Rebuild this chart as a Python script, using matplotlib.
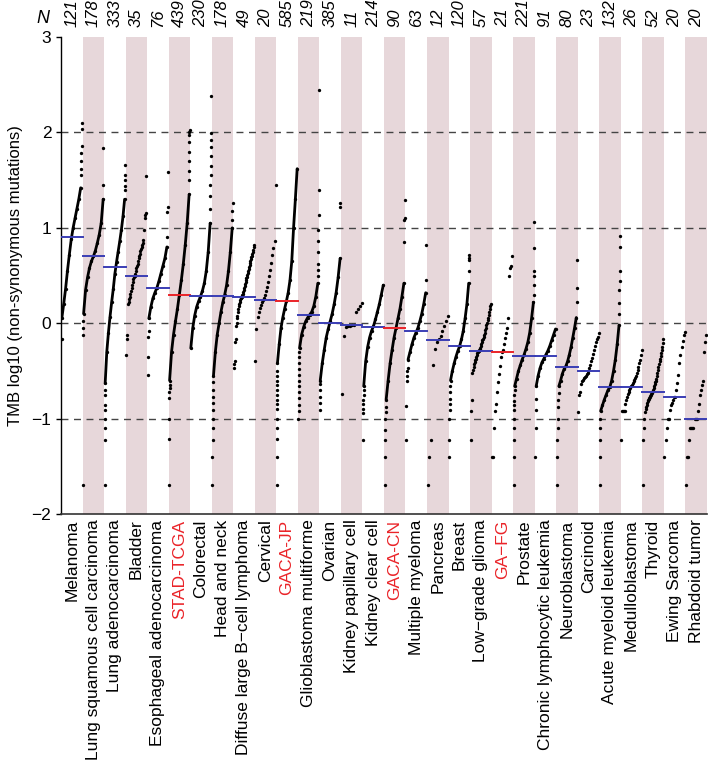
import numpy as np
import matplotlib
matplotlib.use("Agg")
import matplotlib.pyplot as plt

plt.rcParams['font.family'] = ['Liberation Sans', 'DejaVu Sans']

categories = ["Melanoma", "Lung squamous cell carcinoma", "Lung adenocarcinoma", "Bladder",
              "Esophageal adenocarcinoma", "STAD-TCGA", "Colorectal", "Head and neck",
              "Diffuse large B\u2212cell lymphoma", "Cervical", "GACA-JP", "Glioblastoma multiforme",
              "Ovarian", "Kidney papillary cell", "Kidney clear cell", "GACA-CN", "Multiple myeloma",
              "Pancreas", "Breast", "Low\u2212grade glioma", "GA\u2212FG", "Prostate",
              "Chronic lymphocytic leukemia", "Neuroblastoma", "Carcinoid", "Acute myeloid leukemia",
              "Medulloblastoma", "Thyroid", "Ewing Sarcoma", "Rhabdoid tumor"]
n_samples = [121, 178, 333, 35, 76, 439, 230, 178, 49, 20, 585, 219, 385, 11, 214, 90, 63,
             12, 120, 57, 21, 221, 91, 80, 23, 132, 26, 52, 20, 20]
highlight = ["STAD-TCGA", "GACA-JP", "GACA-CN", "GA\u2212FG"]
medians = [0.90, 0.70, 0.59, 0.50, 0.37, 0.30, 0.29, 0.29, 0.28, 0.24, 0.23, 0.09, 0.00,
           -0.02, -0.04, -0.05, -0.08, -0.18, -0.24, -0.29, -0.30, -0.34, -0.34, -0.46,
           -0.50, -0.67, -0.67, -0.72, -0.77, -1.00]

# isolated low outliers (sorted, lowest ranks)
low_tail = [
    [-0.17],
    [-1.70, -0.12, -0.05, 0.02],
    [-1.70, -1.22, -1.10, -1.00, -0.91, -0.86, -0.75, -0.70],
    [],
    [-0.54, -0.35, -0.14, -0.08],
    [-1.70, -1.21, -1.00, -0.78, -0.72, -0.68, -0.65],
    [],
    [-1.70, -1.40, -1.22, -1.10, -1.00, -0.91, -0.84, -0.77, -0.70, -0.62],
    [],
    [],
    [-1.70, -1.40, -1.21, -1.10, -1.00, -0.90, -0.85, -0.80, -0.75, -0.70, -0.65, -0.60, -0.55, -0.50],
    [-1.00, -0.92, -0.86, -0.78, -0.72, -0.66, -0.60, -0.54, -0.48, -0.42, -0.35, -0.30],
    [-0.91, -0.84, -0.77, -0.70, -0.64],
    [],
    [-1.22, -0.94, -0.90, -0.85, -0.80, -0.75, -0.70],
    [-1.70, -1.40, -1.22, -1.12, -1.00, -0.93, -0.88],
    [-1.22, -0.87, -0.60, -0.55, -0.50, -0.47],
    [],
    [-1.40, -1.22, -1.00, -0.91, -0.85, -0.79, -0.72, -0.66],
    [],
    [],
    [-1.70, -1.40, -1.22, -1.10, -1.00, -0.91, -0.86, -0.81, -0.75, -0.70],
    [-1.40, -1.10, -0.91, -0.79],
    [-1.70, -1.40, -1.22, -1.10, -1.00, -0.88, -0.80, -0.73],
    [],
    [-1.70, -1.40, -1.22, -1.10, -1.00],
    [],
    [],
    [],
    [],
]

# main sorted body of each distribution (evenly spaced ranks)
body = [
    [0.05, 0.20, 0.36, 0.55, 0.72, 0.88, 1.00, 1.10, 1.20, 1.30, 1.42],
    [0.10, 0.35, 0.48, 0.58, 0.65, 0.70, 0.76, 0.84, 0.93, 1.05, 1.30],
    [-0.63, -0.30, -0.10, 0.07, 0.22, 0.36, 0.52, 0.64, 0.75, 0.86, 0.98, 1.12, 1.30],
    [-0.33, -0.16, -0.12, 0.20, 0.22, 0.25, 0.28, 0.31, 0.34, 0.37, 0.40, 0.43, 0.46, 0.49,
     0.50, 0.52, 0.55, 0.58, 0.60, 0.62, 0.65, 0.68, 0.70, 0.73, 0.76, 0.78, 0.80, 0.82,
     0.84, 0.87, 0.98, 1.10, 1.14, 1.16, 1.54],
    [0.05, 0.17, 0.26, 0.32, 0.37, 0.44, 0.52, 0.60, 0.68, 0.80],
    [-0.60, -0.30, -0.12, 0.02, 0.15, 0.30, 0.45, 0.62, 0.82, 1.05, 1.35],
    [-0.26, -0.05, 0.08, 0.17, 0.23, 0.28, 0.34, 0.42, 0.55, 0.75, 1.05],
    [-0.55, -0.30, -0.12, 0.00, 0.12, 0.22, 0.30, 0.40, 0.55, 0.75, 1.00],
    [-0.47, -0.43, -0.40, -0.20, -0.17, -0.03, 0.00, 0.05, 0.08, 0.12, 0.15, 0.18, 0.20,
     0.22, 0.24, 0.26, 0.27, 0.28, 0.29, 0.30, 0.31, 0.33, 0.35, 0.37, 0.39, 0.41, 0.43,
     0.45, 0.47, 0.49, 0.51, 0.53, 0.55, 0.57, 0.59, 0.61, 0.63, 0.65, 0.67, 0.69, 0.71,
     0.73, 0.75, 0.77, 0.80, 0.82],
    [-0.40, -0.06, 0.07, 0.12, 0.16, 0.19, 0.22, 0.24, 0.26, 0.30, 0.34, 0.38, 0.43, 0.50,
     0.56, 0.63, 0.72, 0.79, 0.86, 1.45],
    [-0.42, -0.22, -0.05, 0.06, 0.15, 0.23, 0.32, 0.45, 0.65, 1.00, 1.30, 1.62],
    [-0.26, -0.12, -0.04, 0.02, 0.06, 0.09, 0.12, 0.18, 0.28, 0.42],
    [-0.60, -0.42, -0.28, -0.15, -0.06, 0.02, 0.10, 0.20, 0.32, 0.48, 0.68],
    [-0.74, -0.13, -0.04, -0.03, -0.03, -0.02, -0.02, 0.12, 0.15, 0.18, 0.21],
    [-0.66, -0.40, -0.25, -0.15, -0.08, -0.03, 0.04, 0.12, 0.20, 0.30, 0.40],
    [-0.80, -0.60, -0.42, -0.28, -0.15, -0.05, 0.05, 0.15, 0.28, 0.42],
    [-0.38, -0.30, -0.22, -0.15, -0.10, -0.05, 0.02, 0.10, 0.20, 0.32],
    [-1.70, -1.40, -1.22, -0.44, -0.27, -0.20, -0.17, -0.13, -0.08, -0.03, 0.02, 0.08],
    [-0.60, -0.50, -0.42, -0.35, -0.29, -0.24, -0.17, -0.08, 0.05, 0.20, 0.42],
    [-1.22, -0.92, -0.80, -0.52, -0.49, -0.46, -0.43, -0.41, -0.39, -0.37, -0.35, -0.33,
     -0.31, -0.30, -0.29, -0.28, -0.27, -0.26, -0.24, -0.22, -0.20, -0.18, -0.16, -0.14,
     -0.12, -0.10, -0.07, -0.05, -0.02, 0.00, 0.03, 0.06, 0.09, 0.12, 0.15, 0.18, 0.20],
    [-1.40, -1.40, -1.10, -0.92, -0.85, -0.72, -0.62, -0.53, -0.45, -0.35, -0.30, -0.28,
     -0.22, -0.15, -0.10, -0.05, 0.06, 0.50, 0.58, 0.60, 0.71],
    [-0.66, -0.58, -0.50, -0.44, -0.38, -0.33, -0.27, -0.20, -0.10, 0.05, 0.22],
    [-0.66, -0.55, -0.47, -0.41, -0.37, -0.33, -0.29, -0.24, -0.18, -0.12, -0.06],
    [-0.66, -0.60, -0.53, -0.48, -0.45, -0.40, -0.33, -0.25, -0.15, -0.05, 0.06],
    [-0.93, -0.75, -0.72, -0.64, -0.61, -0.59, -0.57, -0.56, -0.55, -0.53, -0.52, -0.50,
     -0.47, -0.44, -0.40, -0.36, -0.32, -0.28, -0.24, -0.20, -0.17, -0.14, -0.10],
    [-0.92, -0.86, -0.80, -0.75, -0.70, -0.67, -0.60, -0.50, -0.38, -0.22, -0.02],
    [-1.22, -0.92, -0.92, -0.92, -0.92, -0.85, -0.80, -0.77, -0.74, -0.72, -0.70, -0.68,
     -0.66, -0.65, -0.63, -0.61, -0.59, -0.57, -0.55, -0.52, -0.49, -0.46, -0.42, -0.38,
     -0.33, -0.28],
    [-1.70, -1.22, -1.10, -1.00, -0.93, -0.90, -0.88, -0.86, -0.84, -0.82, -0.80, -0.79,
     -0.78, -0.77, -0.76, -0.75, -0.74, -0.73, -0.72, -0.71, -0.70, -0.68, -0.66, -0.64,
     -0.62, -0.60, -0.58, -0.55, -0.52, -0.49, -0.46, -0.43, -0.40, -0.37, -0.34, -0.31,
     -0.28, -0.25, -0.21, -0.17],
    [-1.40, -1.22, -1.10, -1.00, -1.00, -0.91, -0.86, -0.84, -0.80, -0.77, -0.77, -0.70,
     -0.63, -0.54, -0.42, -0.33, -0.25, -0.19, -0.12, -0.09],
    [-1.70, -1.40, -1.40, -1.22, -1.10, -1.10, -1.10, -1.10, -1.00, -1.00, -1.00, -0.92,
     -0.85, -0.75, -0.70, -0.65, -0.60, -0.30, -0.20, -0.12],
]

# isolated high outliers (sorted, highest ranks)
high_tail = [
    [1.55, 1.62, 1.70, 1.78, 1.86, 2.04, 2.10],
    [1.45, 1.84],
    [1.40, 1.44, 1.50, 1.55, 1.66],
    [],
    [0.90, 1.17, 1.22, 1.59],
    [1.50, 1.60, 1.70, 1.80, 1.90, 1.97, 2.00, 2.03],
    [1.20, 1.33, 1.45, 1.55, 1.65, 1.75, 1.85, 1.92, 1.99, 2.38],
    [1.08, 1.18, 1.26],
    [],
    [],
    [],
    [0.50, 0.56, 0.62, 0.75, 0.86, 0.98, 1.14, 1.40, 2.45],
    [1.22, 1.26],
    [],
    [],
    [0.85, 1.08, 1.10, 1.29],
    [0.45, 0.82],
    [],
    [0.55, 0.66, 0.68, 0.72],
    [],
    [],
    [0.30, 0.40, 0.50, 0.55, 0.79, 1.06],
    [],
    [0.22, 0.37, 0.66],
    [],
    [0.10, 0.21, 0.35, 0.44, 0.55, 0.80, 0.91],
    [],
    [],
    [],
    [],
]

shade_color = "#e7d7da"
blue = "#3a3db4"
red = "#ea2328"

fig = plt.figure(figsize=(7.09, 7.73), dpi=100)
ax = fig.add_axes([0.086, 0.335, 0.911, 0.617])

ncat = len(categories)
for i in range(ncat):
    if i % 2 == 1:
        ax.axvspan(i, i + 1, color=shade_color, lw=0, zorder=0)

for yv in [-1, 0, 1, 2]:
    ax.axhline(yv, color="#444444", lw=1.0, ls=(0, (5, 4)), zorder=1)

for i in range(ncat):
    n = n_samples[i]
    lo, bd, hi = low_tail[i], body[i], high_tail[i]
    dense = n >= 60
    if dense:
        total = n
        r_lo = np.arange(len(lo))
        r_hi = np.arange(total - len(hi), total)
        r_bd = np.linspace(len(lo), total - 1 - len(hi), len(bd))
    else:
        total = len(lo) + len(bd) + len(hi)
        r_lo = np.arange(len(lo))
        r_bd = np.arange(len(lo), len(lo) + len(bd))
        r_hi = np.arange(len(lo) + len(bd), total)
    scale = max(total - 1, 1)
    x_lo = i + 0.03 + 0.94 * r_lo / scale
    x_bd = i + 0.03 + 0.94 * r_bd / scale
    x_hi = i + 0.03 + 0.94 * r_hi / scale
    if dense:
        ax.plot(x_bd, bd, color="black", lw=2.0, solid_capstyle="round", zorder=3)
    xs = np.concatenate([x_lo, x_bd, x_hi])
    ys = np.concatenate([lo, bd, hi])
    ax.plot(xs, ys, ls="none", marker="o", ms=2.4, mfc="black", mec="black", mew=0, zorder=3)
    col = red if categories[i] in highlight else blue
    ax.plot([i, i + 1], [medians[i], medians[i]], color=col, lw=1.4, zorder=4)

ax.set_xlim(0, ncat)
ax.set_ylim(-2, 3)
ax.set_yticks([-2, -1, 0, 1, 2, 3])
ax.tick_params(axis="y", labelsize=12.5, length=3.5, width=1)
ax.set_xticks(np.arange(ncat) + 0.5)
ax.set_xticklabels(categories, rotation=90, fontsize=12.5)
ax.tick_params(axis="x", length=0, pad=4)
for lbl in ax.get_xticklabels():
    if lbl.get_text() in highlight:
        lbl.set_color(red)

for side in ["top", "right"]:
    ax.spines[side].set_visible(False)
ax.spines["left"].set_linewidth(1.0)
ax.spines["bottom"].set_linewidth(1.2)
ax.spines["bottom"].set_color("#333333")

ax.set_ylabel("TMB log10 (non-synonymous mutations)", fontsize=12, labelpad=6)

for i in range(ncat):
    ax.annotate(str(n_samples[i]), xy=(i + 0.5, 3), xytext=(0, 7), textcoords="offset points",
                rotation=90, ha="center", va="bottom", fontsize=12, style="italic",
                annotation_clip=False)
ax.annotate("N", xy=(0, 3), xytext=(-13, 7), textcoords="offset points", ha="center",
            va="bottom", fontsize=13, style="italic", annotation_clip=False)

fig.savefig("out.png", dpi=100)
